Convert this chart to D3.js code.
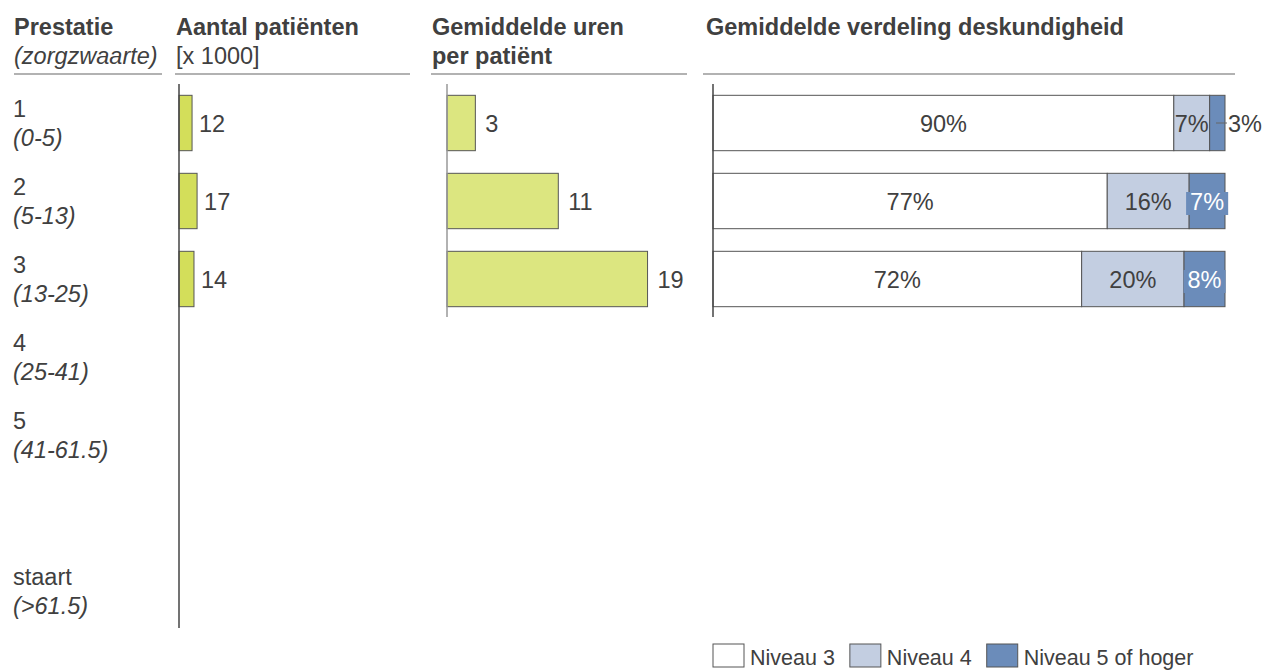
<!DOCTYPE html>
<html>
<head>
<meta charset="utf-8">
<script src="https://cdn.jsdelivr.net/npm/d3@7"></script>
<style>
  body { margin: 0; background: #fff; }
  svg text { font-family: "Liberation Sans", Arial, sans-serif; fill: #404040; }
</style>
</head>
<body>
<svg id="chart" width="1268" height="672"></svg>
<script>
// rows (prestatie + zorgzwaarte), one empty row before "staart"
const categories = ['1', '2', '3', '4', '5', '', 'staart'];
const ranges = ['(0-5)', '(5-13)', '(13-25)', '(25-41)', '(41-61.5)', '', '(>61.5)'];

// aantal patiënten [x 1000]
const patients = [12.2, 16.9, 14.0];
// gemiddelde uren per patiënt
const hours = [2.7, 10.6, 19.1];
// verdeling deskundigheid (%)
const niveau3 = [90, 77, 72];
const niveau4 = [7, 16, 20];
const niveau5 = [3, 7, 8];
const levels = ['Niveau 3', 'Niveau 4', 'Niveau 5 of hoger'];

const headers = [
  { x: 14, x2: 162, l1: 'Prestatie', l2: '(zorgzwaarte)', italic: true },
  { x: 176, x2: 410, l1: 'Aantal patiënten', l2: '[x 1000]', italic: false, lx: 175 },
  { x: 432, x2: 687, l1: 'Gemiddelde uren', l2: 'per patiënt', italic: false, bold2: true, lx: 431 },
  { x: 706, x2: 1235, l1: 'Gemiddelde verdeling deskundigheid', l2: '', italic: false, lx: 703 }
];

(function() {
  'use strict';

  const svg = d3.select('#chart'),
        fs = 23.5,
        legendFs = 21.5,
        barColor1 = '#d3de5a',
        barColor2 = '#dce680',
        levelColors = ['#ffffff', '#c3cee1', '#6b8cba'],
        stroke = '#555';

  const y = d3.scaleBand()
    .domain(categories)
    .range([84, 630])
    .paddingInner(0.29)
    .paddingOuter(0.145);

  const x1 = d3.scaleLinear().domain([0, 215]).range([179, 409]);
  const x2 = d3.scaleLinear().domain([0, 24]).range([447, 699]);
  const x3 = d3.scaleLinear().domain([0, 100]).range([713, 1225]);

  const fmt = d3.format('.0f');
  const mid = c => y(c) + y.bandwidth() / 2;
  const used = categories.slice(0, patients.length);

  // headers
  headers.forEach(h => {
    svg.append('text')
      .attr('x', h.x).attr('y', 35)
      .attr('font-size', fs).attr('font-weight', 'bold')
      .text(h.l1);
    if (h.l2) {
      svg.append('text')
        .attr('x', h.x).attr('y', 64)
        .attr('font-size', fs)
        .attr('font-weight', h.bold2 ? 'bold' : 'normal')
        .attr('font-style', h.italic ? 'italic' : 'normal')
        .text(h.l2);
    }
    svg.append('line')
      .attr('x1', h.lx || h.x).attr('x2', h.x2)
      .attr('y1', 74).attr('y2', 74)
      .attr('stroke', '#999').attr('stroke-width', 1.5);
  });

  // row labels
  const rows = svg.append('g').selectAll('g')
    .data(categories)
    .join('g');
  rows.append('text')
    .attr('x', 13).attr('y', d => mid(d) - 6)
    .attr('font-size', fs)
    .text(d => d);
  rows.append('text')
    .attr('x', 13).attr('y', (d, i) => mid(d) + 23)
    .attr('font-size', fs).attr('font-style', 'italic')
    .text((d, i) => ranges[i]);

  // aantal patiënten
  svg.append('g').selectAll('rect')
    .data(patients)
    .join('rect')
    .attr('x', x1(0))
    .attr('y', (d, i) => y(categories[i]))
    .attr('width', d => x1(d) - x1(0))
    .attr('height', y.bandwidth())
    .attr('fill', barColor1).attr('stroke', stroke);
  svg.append('g').selectAll('text')
    .data(patients)
    .join('text')
    .attr('x', d => x1(d) + 7)
    .attr('y', (d, i) => mid(categories[i]) + 9)
    .attr('font-size', fs)
    .text(d => fmt(d));
  svg.append('line')
    .attr('x1', x1(0)).attr('x2', x1(0))
    .attr('y1', 84).attr('y2', 628)
    .attr('stroke', '#444').attr('stroke-width', 1.5);

  // uren per patiënt
  svg.append('g').selectAll('rect')
    .data(hours)
    .join('rect')
    .attr('x', x2(0))
    .attr('y', (d, i) => y(categories[i]))
    .attr('width', d => x2(d) - x2(0))
    .attr('height', y.bandwidth())
    .attr('fill', barColor2).attr('stroke', stroke);
  svg.append('g').selectAll('text')
    .data(hours)
    .join('text')
    .attr('x', d => x2(d) + 10)
    .attr('y', (d, i) => mid(categories[i]) + 9)
    .attr('font-size', fs)
    .text(d => fmt(d));
  svg.append('line')
    .attr('x1', x2(0)).attr('x2', x2(0))
    .attr('y1', 84).attr('y2', 317)
    .attr('stroke', '#999').attr('stroke-width', 1.5);

  // verdeling deskundigheid (stacked)
  const table = used.map((c, i) => ({ cat: c, n3: niveau3[i], n4: niveau4[i], n5: niveau5[i] }));
  const series = d3.stack().keys(['n3', 'n4', 'n5'])(table);

  const seg = svg.append('g').selectAll('g')
    .data(series)
    .join('g')
    .attr('fill', (s, k) => levelColors[k]);
  seg.selectAll('rect')
    .data(s => s)
    .join('rect')
    .attr('x', d => x3(d[0]))
    .attr('y', d => y(d.data.cat))
    .attr('width', d => x3(d[1]) - x3(d[0]))
    .attr('height', y.bandwidth())
    .attr('stroke', stroke);

  const labels = svg.append('g');
  series.forEach((s, k) => {
    s.forEach(d => {
      const v = d[1] - d[0],
            w = x3(d[1]) - x3(d[0]),
            cy = mid(d.data.cat) + 9,
            txt = fmt(v) + '%';
      if (k === 2 && w < 25) {
        // small segment: label outside with leader line
        labels.append('line')
          .attr('x1', x3(d[1]) - 9).attr('x2', x3(d[1]) + 2)
          .attr('y1', mid(d.data.cat)).attr('y2', mid(d.data.cat))
          .attr('stroke', '#666');
        labels.append('text')
          .attr('x', x3(d[1]) + 3).attr('y', cy)
          .attr('font-size', fs)
          .text(txt);
        return;
      }
      const cx = (x3(d[0]) + x3(d[1])) / 2;
      const t = labels.append('text')
        .attr('x', cx).attr('y', cy)
        .attr('text-anchor', 'middle')
        .attr('font-size', fs)
        .style('fill', k === 2 ? '#fff' : '#404040')
        .text(txt);
      if (k === 2) {
        const bb = t.node().getBBox();
        labels.insert('rect', () => t.node())
          .attr('x', bb.x - 4).attr('y', bb.y + 3)
          .attr('width', bb.width + 8).attr('height', bb.height - 3)
          .attr('fill', levelColors[2]);
      }
    });
  });
  svg.append('line')
    .attr('x1', x3(0)).attr('x2', x3(0))
    .attr('y1', 84).attr('y2', 317)
    .attr('stroke', '#444').attr('stroke-width', 1.5);

  // legend
  const legend = svg.append('g');
  let lx = 713;
  levels.forEach((name, k) => {
    legend.append('rect')
      .attr('x', lx).attr('y', 644)
      .attr('width', 31).attr('height', 23)
      .attr('fill', levelColors[k]).attr('stroke', stroke);
    const t = legend.append('text')
      .attr('x', lx + 37).attr('y', 665)
      .attr('font-size', legendFs)
      .text(name);
    lx += 37 + t.node().getComputedTextLength() + 15;
  });
})();
</script>
</body>
</html>
